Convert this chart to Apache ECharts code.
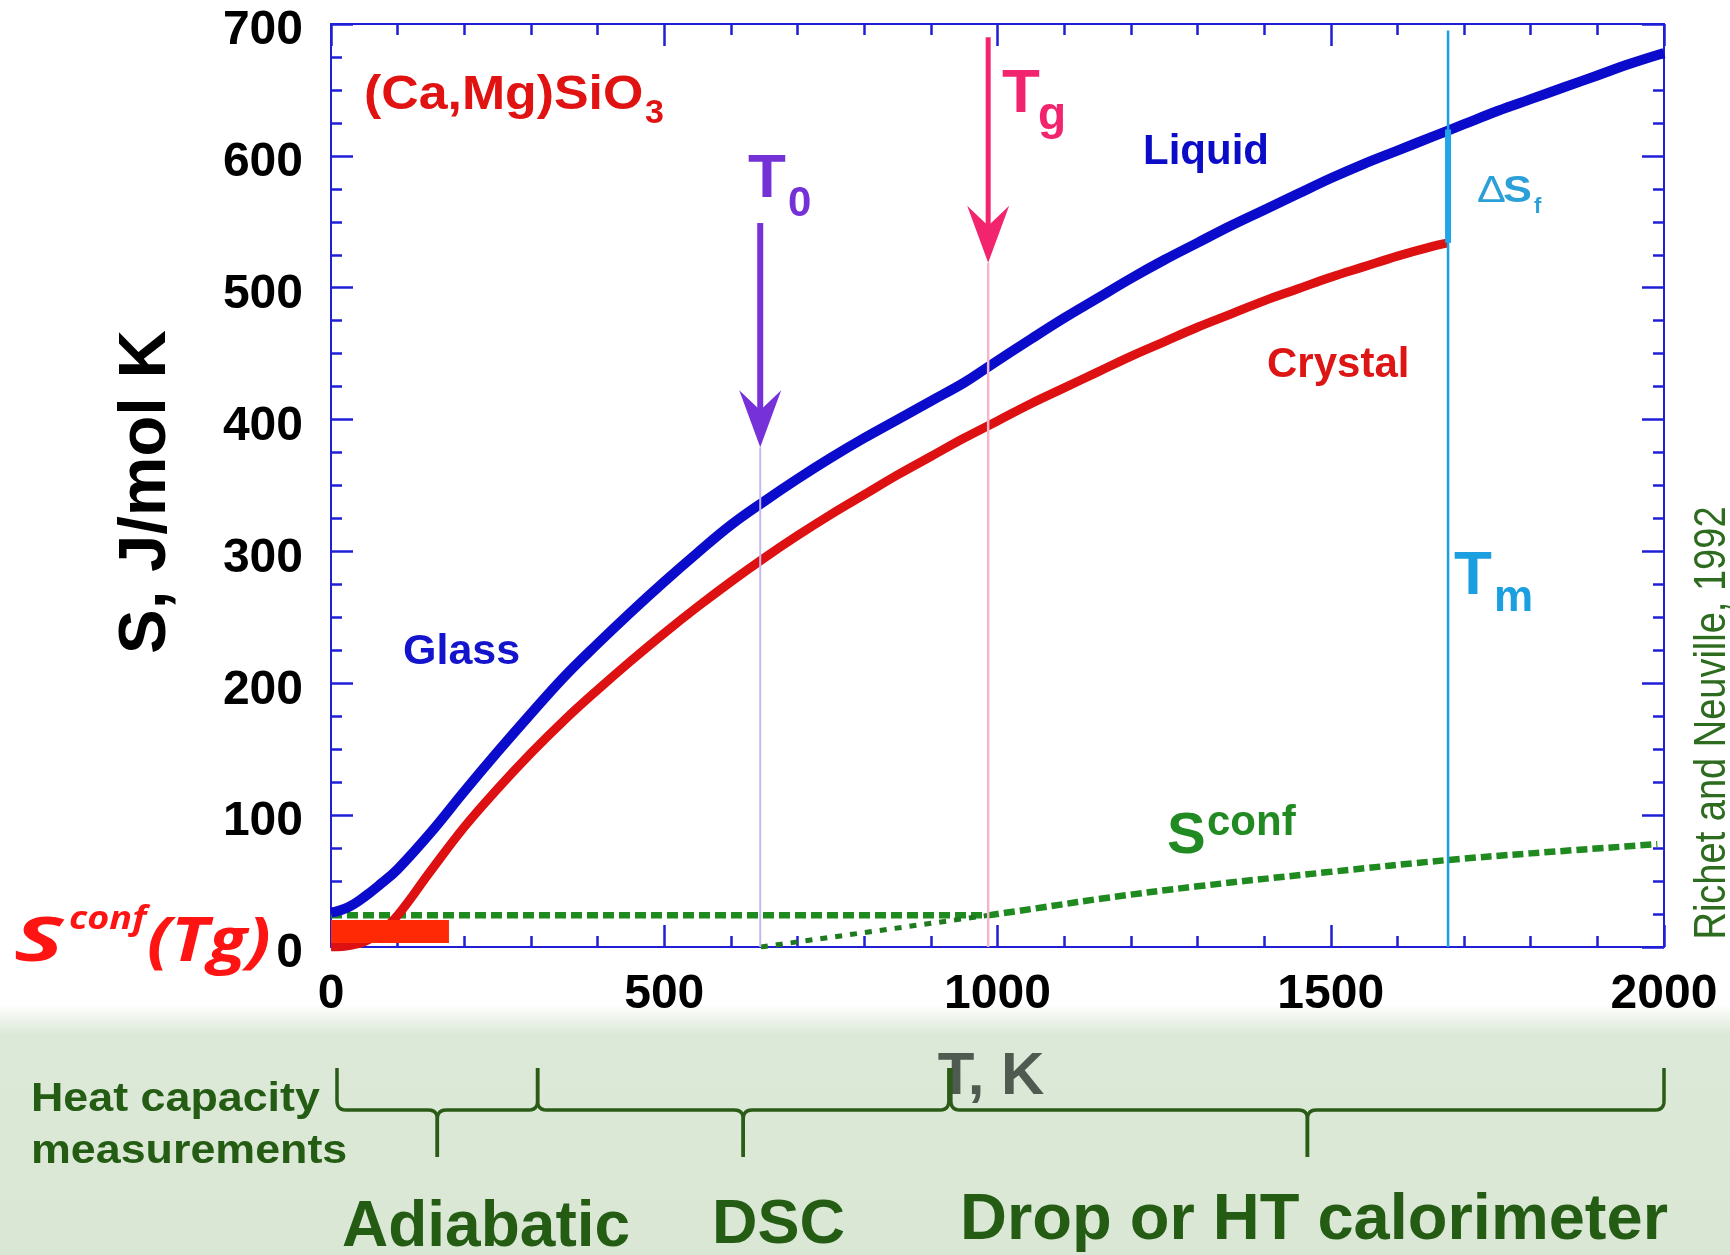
<!DOCTYPE html>
<html>
<head>
<meta charset="utf-8">
<script src="https://cdn.jsdelivr.net/npm/echarts@6/dist/echarts.min.js"></script>
<style>
  html, body { margin: 0; padding: 0; background: #ffffff; }
  #chart { width: 1730px; height: 1255px; }
</style>
</head>
<body>
<div id="chart"></div>
<script>
// Entropy of (Ca,Mg)SiO3 glass/liquid and crystal vs temperature (Richet and Neuville, 1992)
const glassLiquidT = [0, 25, 50, 75, 100, 150, 200, 250, 300, 350, 400, 450, 500, 550, 600, 650, 700, 750, 800, 850, 900, 950, 986,
                      1050, 1100, 1150, 1200, 1250, 1300, 1350, 1400, 1450, 1500, 1550, 1600, 1650, 1700, 1750, 1800, 1850, 1900, 1950, 2000];
const glassLiquidS = [26, 30, 38, 48, 59, 87, 118, 148, 177, 205, 230, 254, 277, 299, 320, 338, 355, 371, 386, 400, 414, 428, 440,
                      461, 477, 492, 507, 521, 534, 547, 559, 571, 583, 594, 604, 614, 624, 634, 643, 652, 661, 670, 678];

const crystalT = [0, 25, 50, 75, 100, 150, 200, 250, 300, 350, 400, 450, 500, 550, 600, 650, 700, 750, 800, 850, 900, 950, 1000,
                  1050, 1100, 1150, 1200, 1250, 1300, 1350, 1400, 1450, 1500, 1550, 1600, 1650, 1676];
const crystalS = [0, 1, 4, 12, 24, 58, 91, 120, 147, 172, 195, 217, 238, 258, 277, 295, 312, 328, 343, 358, 372, 386, 399,
                  412, 424, 436, 448, 459, 470, 480, 490, 499, 508, 516, 524, 531, 534];

// Configurational entropy: frozen in the glass below Tg, rising in the liquid above it
const sconfGlassT = [0, 986];
const sconfGlassS = [24, 24];
const sconfLiquidT = [986, 1080, 1160, 1300, 1500, 1676, 1800, 1990];
const sconfLiquidS = [24, 31, 37, 46, 57, 66, 71, 78];
// Extrapolation of Sconf to zero below Tg
const sconfExtrapT = [645, 986];
const sconfExtrapS = [0, 24];

// Characteristic temperatures (K)
const T0 = 644, Tg = 986, Tm = 1676;
// Arrows: [T, S at tail, S at tip]
const arrows = [[T0, 549, 379], [Tg, 690, 519]];
// Entropy of fusion at Tm: [crystal, liquid]
const fusionS = [534, 620];
// Residual entropy Sconf(Tg) bar: [T from, T to, S from, S to]
const sconfTgBar = [[0, 177, 3, 20.5]];

// Axis ranges: [min, max, interval]
const xRange = [0, 2000, 500];
const yRange = [0, 700, 100];

// Heat capacity methods and their temperature ranges
const methods = ['Adiabatic', 'DSC', 'Drop or HT calorimeter'];
const methodRanges = [[9, 310], [310, 927], [930, 2000]];

const FONT = '"Liberation Sans", Arial, sans-serif';
const AXIS_BLUE = '#1f1fd6';
const pair = (xs, ys) => xs.map((x, i) => [x, ys[i]]);

const chart = echarts.init(document.getElementById('chart'), null, { renderer: 'canvas' });

function axisCommon(extra, minorSplit) {
  return Object.assign({
    type: 'value',
    axisLine: { show: true, onZero: false, lineStyle: { color: AXIS_BLUE, width: 2 } },
    axisTick: { show: true, inside: true, length: 22, lineStyle: { color: AXIS_BLUE, width: 2.5 } },
    minorTick: { show: true, splitNumber: minorSplit, length: 11, lineStyle: { color: AXIS_BLUE, width: 2.5 } },
    splitLine: { show: false },
    minorSplitLine: { show: false }
  }, extra);
}

const labelStyle = { color: '#000', fontSize: 48, fontWeight: 'bold', fontFamily: FONT, formatter: v => String(v) };

const option = {
  animation: false,
  backgroundColor: '#ffffff',
  textStyle: { fontFamily: FONT },
  grid: { left: 331, top: 24, width: 1333, height: 923, containLabel: false },
  xAxis: [
    axisCommon({ position: 'bottom', min: xRange[0], max: xRange[1], interval: xRange[2],
      axisLabel: Object.assign({ margin: 24 }, labelStyle) }, 5),
    axisCommon({ position: 'top', min: xRange[0], max: xRange[1], interval: xRange[2],
      axisLabel: { show: false } }, 5)
  ],
  yAxis: [
    axisCommon({ position: 'left', min: yRange[0], max: yRange[1], interval: yRange[2],
      axisLabel: Object.assign({ margin: 28, verticalAlign: 'top', lineHeight: 14 }, labelStyle) }, 4),
    axisCommon({ position: 'right', min: yRange[0], max: yRange[1], interval: yRange[2],
      axisLabel: { show: false } }, 4)
  ],
  series: [
    {
      name: 'Sconf glass', type: 'line', data: pair(sconfGlassT, sconfGlassS), showSymbol: false, z: 3,
      lineStyle: { color: '#1f8a1f', width: 6.5, type: [11, 5] }
    },
    {
      name: 'Sconf liquid', type: 'line', data: pair(sconfLiquidT, sconfLiquidS), showSymbol: false, z: 3,
      smooth: 0.4, lineStyle: { color: '#1f8a1f', width: 6.5, type: [11, 5] }
    },
    {
      name: 'Sconf extrapolation', type: 'line', data: pair(sconfExtrapT, sconfExtrapS), showSymbol: false, z: 3,
      lineStyle: { color: '#1f7a1f', width: 5, type: [7, 8] }
    },
    {
      name: 'Crystal', type: 'line', data: pair(crystalT, crystalS), showSymbol: false, smooth: 0.4, z: 4,
      lineStyle: { color: '#dd1111', width: 9 }
    },
    {
      name: 'Glass / Liquid', type: 'line', data: pair(glassLiquidT, glassLiquidS), showSymbol: false, smooth: 0.4, z: 5,
      lineStyle: { color: '#0b0bcc', width: 10 }
    },
    {
      name: 'T0 line', type: 'line', data: [[T0, 0], [T0, arrows[0][2]]], showSymbol: false, z: 6,
      lineStyle: { color: '#c6b8ef', width: 2 }
    },
    {
      name: 'Tg line', type: 'line', data: [[Tg, 0], [Tg, arrows[1][2]]], showSymbol: false, z: 6,
      lineStyle: { color: '#f4b6c8', width: 2.5 }
    },
    {
      name: 'Tm line', type: 'line', data: [[Tm, 0], [Tm, 695]], showSymbol: false, z: 6,
      lineStyle: { color: '#1c9fe0', width: 2.5 }
    },
    {
      name: 'Entropy of fusion', type: 'line', data: [[Tm, fusionS[0]], [Tm, fusionS[1]]], showSymbol: false, z: 7,
      lineStyle: { color: '#1fa5e8', width: 6 }
    },
    {
      name: 'Sconf(Tg)', type: 'custom', data: sconfTgBar, z: 8, clip: false,
      renderItem: (params, api) => {
        const p0 = api.coord([api.value(0), api.value(3)]);
        const p1 = api.coord([api.value(1), api.value(2)]);
        return { type: 'rect', shape: { x: p0[0], y: p0[1], width: p1[0] - p0[0], height: p1[1] - p0[1] },
                 style: { fill: '#ff2a05' } };
      }
    },
    {
      name: 'Arrows', type: 'custom', data: arrows, z: 9, clip: false,
      renderItem: (params, api) => {
        const colors = ['#7632d8', '#f2246e'];
        const widths = [6, 5];
        const color = colors[params.dataIndex];
        const top = api.coord([api.value(0), api.value(1)]);
        const tip = api.coord([api.value(0), api.value(2)]);
        const x = tip[0], y = tip[1];
        return {
          type: 'group',
          children: [
            { type: 'line', shape: { x1: top[0], y1: top[1], x2: x, y2: y - 30 },
              style: { stroke: color, lineWidth: widths[params.dataIndex] } },
            { type: 'polygon', shape: { points: [[x, y], [x + 21, y - 57], [x, y - 37], [x - 21, y - 57]] },
              style: { fill: color } }
          ]
        };
      }
    }
  ]
};

chart.setOption(option);

// ---- annotations ----
const K = 0.31; // offset from text middle to alphabetic baseline, as a fraction of font size
function txt(text, x, baseline, size, fill, extra) {
  const e = extra || {};
  const weight = e.weight || 'bold';
  const style = e.italic ? 'italic ' : '';
  const family = e.family || FONT;
  return {
    type: 'text', x: x, y: e.rotation ? baseline : baseline - K * size, z: e.z || 20,
    scaleX: e.scaleX || 1, scaleY: e.scaleY || 1,
    rotation: e.rotation || 0,
    style: {
      text: text, x: 0, y: 0, fill: fill,
      font: style + weight + ' ' + size + 'px ' + family,
      textAlign: e.align || 'left', textVerticalAlign: 'middle', verticalAlign: 'middle'
    }
  };
}
function quad(pts, p0, c, p1) {
  for (let i = 1; i <= 6; i++) {
    const t = i / 6;
    pts.push([(1 - t) * (1 - t) * p0[0] + 2 * (1 - t) * t * c[0] + t * t * p1[0],
              (1 - t) * (1 - t) * p0[1] + 2 * (1 - t) * t * c[1] + t * t * p1[1]]);
  }
}
function braceHalf(xe, xc, yTop, yMid, yTip, r) {
  const s = xc > xe ? 1 : -1;
  const pts = [[xe, yTop], [xe, yMid - r]];
  quad(pts, [xe, yMid - r], [xe, yMid], [xe + s * r, yMid]);
  pts.push([xc - s * r, yMid]);
  quad(pts, [xc - s * r, yMid], [xc, yMid], [xc, yMid + r]);
  pts.push([xc, yTip]);
  return { type: 'polyline', z: 15, shape: { points: pts },
           style: { stroke: '#2a5c18', lineWidth: 3.5, fill: null, lineJoin: 'round' } };
}

const graphics = [];
// light green band beneath the plot
graphics.push({
  type: 'rect', z: -5, shape: { x: 0, y: 1004, width: 1730, height: 251 },
  style: { fill: new echarts.graphic.LinearGradient(0, 0, 0, 1, [
    { offset: 0, color: 'rgba(221,233,216,0)' },
    { offset: 0.12, color: '#dde9d8' },
    { offset: 1, color: '#d9e7d4' }
  ]) }
});
// braces for heat capacity methods
methodRanges.forEach(r => {
  const xa = chart.convertToPixel({ xAxisIndex: 0 }, r[0]);
  const xb = chart.convertToPixel({ xAxisIndex: 0 }, r[1]);
  const xc = (xa + xb) / 2;
  graphics.push(braceHalf(xa, xc, 1068, 1110, 1157, 9));
  graphics.push(braceHalf(xb, xc, 1068, 1110, 1157, 9));
});

const RED = '#e01212';
const SCONF_RED = '#ff1414';
const CAL = '"Open Sans", sans-serif';
graphics.push(
  txt('(Ca,Mg)SiO', 364, 111, 48, RED, { scaleX: 1.08 }),
  txt('3', 645, 124, 34, RED),
  txt('T', 748, 199, 62, '#7432d6'),
  txt('0', 788, 217, 42, '#7432d6'),
  txt('T', 1002, 114, 62, '#f2246e'),
  txt('g', 1038, 131, 46, '#f2246e'),
  txt('Liquid', 1143, 165, 42, '#0c0cc8'),
  txt('\u0394', 1477, 203, 36, '#2b9fd8', { weight: 'normal', scaleX: 1.2 }),
  txt('S', 1503, 203, 36, '#2b9fd8', { scaleX: 1.2 }),
  txt('f', 1534, 214, 22, '#2b9fd8'),
  txt('Crystal', 1267, 378, 42, '#dd1515'),
  txt('Glass', 403, 665, 43, '#1414cc'),
  txt('T', 1454, 596, 62, '#1c9fe0'),
  txt('m', 1494, 612, 44, '#1c9fe0'),
  txt('S', 1167, 855, 58, '#228a22'),
  txt('conf', 1207, 836, 42, '#228a22'),
  txt('S', 14, 963, 60, SCONF_RED, { italic: true, family: CAL, scaleX: 1.55 }),
  txt('conf', 69, 930, 32, SCONF_RED, { italic: true, family: CAL, scaleX: 1.18 }),
  txt('(Tg)', 147, 963, 60, SCONF_RED, { italic: true, family: CAL, scaleX: 1.18 }),
  txt('S, J/mol K', 147, 492, 67, '#000', { align: 'center', rotation: Math.PI / 2 }),
  txt('Richet and Neuville, 1992', 1713, 723, 38, '#2d6b1e', { weight: 'normal', align: 'center', rotation: Math.PI / 2, scaleY: 1.15 }),
  txt('T, K', 991, 1096, 60, '#4f5a50', { align: 'center', z: 12 }),
  txt('Heat capacity', 31, 1112, 40, '#245c14', { scaleX: 1.12 }),
  txt('measurements', 31, 1164, 40, '#245c14', { scaleX: 1.12 }),
  txt(methods[0], 342, 1248, 64, '#245c14'),
  txt(methods[1], 712, 1245, 63, '#245c14'),
  txt(methods[2], 960, 1241, 65, '#245c14')
);

chart.setOption({ graphic: graphics });
</script>
</body>
</html>
